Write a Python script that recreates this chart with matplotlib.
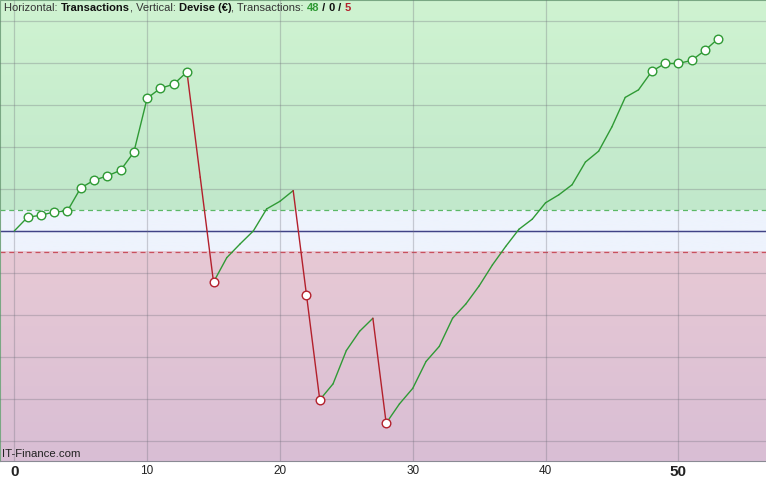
import numpy as np
import matplotlib
matplotlib.use("Agg")
import matplotlib.pyplot as plt
from matplotlib.ticker import MultipleLocator

# equity curve (one point per trade)
trades = list(range(54))
equity = [0, 32.6, 37.4, 45.2, 47.6, 102.4, 120.7, 131.0, 144.4, 187.4,
          315.9, 339.8, 349.3, 378.6, 128.0, -122.0, -63.6, -31.0, 0.0, 52.4,
          70.5, 96.0, -152.4, -402.4, -364.3, -285.0, -239.0, -208.0, -458.0, -412.0,
          -375.0, -311.0, -275.0, -208.0, -174.0, -131.0, -81.0, -37.0, 4.0, 28.0,
          67.0, 86.0, 110.0, 164.0, 190.0, 248.0, 318.0, 336.0, 380.0, 399.0,
          399.0, 406.0, 430.0, 458.0]
x_ticks = [0, 10, 20, 30, 40, 50]
x_labels = ["0", "10", "20", "30", "40", "50"]
big_labels = ["0", "50"]
band = 50          # zone neutre autour de zero
wins, nulls, losses = 48, 0, 5

GREEN = "#2f9a35"
RED = "#b3202c"
FONT = "Liberation Sans"

fig = plt.figure(figsize=(7.66, 4.82), dpi=100)
ax = fig.add_axes([0, 21 / 482, 1, 461 / 482])
ax.set_xlim(-1.077, 56.6)
ax.set_ylim(-548, 550)

# fonds degrades
def gradient(ax, y0, y1, c_top, c_bot):
    c_top = np.array(matplotlib.colors.to_rgb(c_top))
    c_bot = np.array(matplotlib.colors.to_rgb(c_bot))
    t = np.linspace(0, 1, 64)[:, None]
    img = (c_top * (1 - t) + c_bot * t)[:, None, :]
    ax.imshow(img, extent=(ax.get_xlim()[0], ax.get_xlim()[1], y0, y1),
              aspect="auto", origin="upper", zorder=0)

ylo, yhi = ax.get_ylim()
gradient(ax, band, yhi, "#cff3d1", "#c1e8cb")
gradient(ax, -band, band, "#eef3fd", "#eef3fd")
gradient(ax, ylo, -band, "#e7c9d4", "#d9bed5")
ax.set_xlim(-1.077, 56.6)
ax.set_ylim(ylo, yhi)

# grille
ax.xaxis.set_major_locator(MultipleLocator(10))
ax.yaxis.set_major_locator(MultipleLocator(100))
ax.grid(True, color="#6f6f7a", alpha=0.32, lw=0.9, zorder=1)
ax.set_axisbelow(False)
for gl in ax.get_xgridlines() + ax.get_ygridlines():
    gl.set_zorder(1)

ax.axhline(0, color="#2b2f8c", lw=1.0, zorder=2)
ax.axhline(band, color="#5cb866", lw=0.9, ls=(0, (4, 3)), zorder=2)
ax.axhline(-band, color="#c8505e", lw=0.9, ls=(0, (4, 3)), zorder=2)

# courbe : vert si gain, rouge si perte
for i in range(len(trades) - 1):
    col = GREEN if equity[i + 1] >= equity[i] else RED
    ax.plot(trades[i:i + 2], equity[i:i + 2], color=col, lw=1.0, zorder=3,
            solid_capstyle="round")

# cercles sur nouveaux plus hauts / plus bas
eq = np.array(equity)
hi_idx = [i for i in range(1, len(eq)) if eq[i] >= eq[:i].max()]
lo_idx = [i for i in range(1, len(eq)) if eq[i] < eq[:i].min()]
ax.plot(hi_idx, eq[hi_idx], "o", ms=6.2, mfc="white",
        mec=GREEN, mew=1.0, zorder=4)
ax.plot(lo_idx, eq[lo_idx], "o", ms=6.2, mfc="white",
        mec=RED, mew=1.0, zorder=4)

# axes
ax.set_xticks(x_ticks)
ax.set_xticklabels(x_labels, family=FONT)
ax.set_yticklabels([])
ax.tick_params(axis="both", length=0)
ax.tick_params(axis="x", pad=3, colors="#222222")
for lab in ax.get_xticklabels():
    if lab.get_text() in big_labels:
        lab.set_fontsize(11)
        lab.set_fontweight("bold")
    else:
        lab.set_fontsize(8.5)
for s in ["left", "top"]:
    ax.spines[s].set_color("#7aa884")
ax.spines["bottom"].set_color("#8a8a94")
ax.spines["right"].set_visible(False)

# titre multicolore
pieces = [("Horizontal: ", "#333333", "normal"),
          ("Transactions", "#111111", "bold"),
          (", Vertical: ", "#333333", "normal"),
          ("Devise (€)", "#111111", "bold"),
          (", Transactions: ", "#333333", "normal"),
          (str(wins), GREEN, "bold"),
          (" / ", "#111111", "bold"),
          (str(nulls), "#111111", "bold"),
          (" / ", "#111111", "bold"),
          (str(losses), RED, "bold")]
r = fig.canvas.get_renderer()
x = 4 / 766
for txt, col, wt in pieces:
    t = fig.text(x, 1 - 8 / 482, txt, color=col, fontweight=wt, fontsize=8,
                 va="center", ha="left", family=FONT)
    x += t.get_window_extent(renderer=r).width / fig.bbox.width

ax.text(0.003, 4 / 461, "IT-Finance.com", transform=ax.transAxes, fontsize=8.2,
        color="#222222", ha="left", va="baseline", family=FONT)

fig.savefig("out.png", dpi=100)
